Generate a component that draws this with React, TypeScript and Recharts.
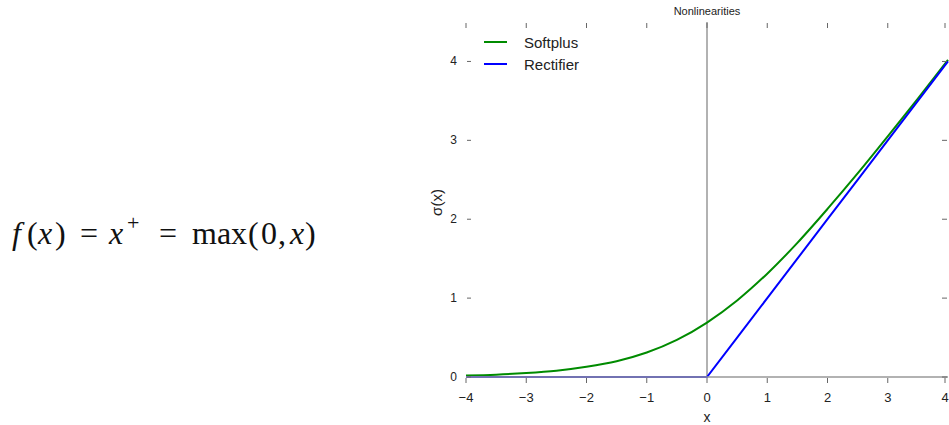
import { Line, LineChart, ReferenceLine, XAxis, YAxis } from 'recharts'

const SOFTPLUS_COLOR = '#008B00'
const RECTIFIER_COLOR = '#0000FF'
const AXIS_GREY = '#999999'
const TICK_GREY = '#666666'
const TEXT = '#222222'
const SANS = "Arial, 'Liberation Sans', sans-serif"
const SERIF = "'Liberation Serif', 'DejaVu Serif', serif"

// values
const xs = [-4, -3.5, -3, -2.5, -2, -1.5, -1, -0.5, 0, 0.5, 1, 1.5, 2, 2.5, 3, 3.5, 4]
const softplus = [0.02, 0.03, 0.05, 0.08, 0.13, 0.2, 0.31, 0.47, 0.69, 0.97, 1.31, 1.7, 2.13, 2.58, 3.05, 3.53, 4.02]
const rectifier = [0, 0, 0, 0, 0, 0, 0, 0, 0, 0.5, 1, 1.5, 2, 2.5, 3, 3.5, 4]
const xTicks = [-4, -3, -2, -1, 0, 1, 2, 3, 4]
const yTicks = [0, 1, 2, 3, 4]
const seriesNames = ['Softplus', 'Rectifier']
const seriesColors = [SOFTPLUS_COLOR, RECTIFIER_COLOR]

const data = xs.map((x, i) => ({ x, softplus: softplus[i], rectifier: rectifier[i] }))

const fmt = (v: number) => String(v).replace('-', '\u2212')

function BottomTick({ x, y, payload }: any) {
  return (
    <g>
      <line x1={x} x2={x} y1={y + 1} y2={y + 6} stroke={TICK_GREY} />
      <text x={x} y={y + 25} textAnchor="middle" fontSize={13} fill={TEXT} fontFamily={SANS}>
        {fmt(payload.value)}
      </text>
    </g>
  )
}

function TopTick({ x, y }: any) {
  return <line x1={x} x2={x} y1={y + 1} y2={y + 6} stroke={TICK_GREY} />
}

function LeftTick({ x, y, payload }: any) {
  return (
    <g>
      <line x1={x + 1} x2={x + 5} y1={y} y2={y} stroke={TICK_GREY} />
      <text x={x - 9} y={y + 4} textAnchor="end" fontSize={12} fill={TEXT} fontFamily={SANS}>
        {payload.value}
      </text>
    </g>
  )
}

function RightTick({ x, y }: any) {
  return <line x1={x - 6} x2={x - 1} y1={y} y2={y} stroke={TICK_GREY} />
}

// formula tokens: [text, left, italic]
const formula: [string, number, boolean][] = [
  ['f', 12, true],
  ['(', 27, false],
  ['x', 38, true],
  [')', 55, false],
  ['=', 80, false],
  ['x', 109, true],
  ['=', 159, false],
  ['max', 192, false],
  ['(', 248, false],
  ['0', 261, false],
  [',', 278, false],
  ['x', 290, true],
  [')', 305, false],
]

function Formula() {
  return (
    <div style={{ position: 'absolute', left: 0, top: 217, fontFamily: SERIF, fontSize: 32, lineHeight: '32px', color: '#111' }}>
      {formula.map(([t, left, it], i) => (
        <span key={i} style={{ position: 'absolute', left, top: 0, fontStyle: it ? 'italic' : 'normal', whiteSpace: 'nowrap' }}>
          {t}
        </span>
      ))}
      <span style={{ position: 'absolute', left: 127, top: -10, fontSize: 22 }}>+</span>
    </div>
  )
}

function LegendBox() {
  return (
    <div style={{ position: 'absolute', left: 484, top: 31, fontFamily: SANS, fontSize: 15, color: TEXT }}>
      {seriesNames.map((name, i) => (
        <div key={name} style={{ display: 'flex', alignItems: 'center', height: 22 }}>
          <svg width={23} height={4} style={{ marginRight: 17 }}>
            <line x1={0} x2={23} y1={2} y2={2} stroke={seriesColors[i]} strokeWidth={2} />
          </svg>
          <span>{name}</span>
        </div>
      ))}
    </div>
  )
}

export default function App() {
  return (
    <div
      style={{ position: 'absolute', left: 0, top: 0, width: 949, height: 425, background: '#fff', overflow: 'hidden' }}
    >
      <Formula />

      <LineChart
        width={949}
        height={425}
        data={data}
        margin={{ top: 21, right: 0, bottom: 0, left: 426 }}
        style={{ position: 'absolute', left: 0, top: 0 }}
      >
        <XAxis
          xAxisId="bottom"
          dataKey="x"
          type="number"
          domain={[-4, 4]}
          ticks={xTicks}
          height={48}
          axisLine={{ stroke: AXIS_GREY, strokeWidth: 1.5 }}
          tickLine={false}
          tickSize={0}
          tickMargin={0}
          tick={<BottomTick />}
          label={{ value: 'x', position: 'insideBottom', offset: 3, fontSize: 14, fill: TEXT, fontFamily: SANS }}
        />
        <XAxis
          xAxisId="top"
          orientation="top"
          dataKey="x"
          type="number"
          domain={[-4, 4]}
          ticks={xTicks}
          height={1}
          axisLine={false}
          tickLine={false}
          tickSize={0}
          tickMargin={0}
          tick={<TopTick />}
        />
        <YAxis
          yAxisId="left"
          type="number"
          domain={[0, 4.5]}
          ticks={yTicks}
          width={40}
          axisLine={false}
          tickLine={false}
          tickSize={0}
          tickMargin={0}
          tick={<LeftTick />}
          label={{ value: '\u03c3(x)', angle: -90, position: 'center', dx: -9, dy: 3, fontSize: 15, fill: TEXT, fontFamily: SANS }}
        />
        <YAxis
          yAxisId="right"
          orientation="right"
          type="number"
          domain={[0, 4.5]}
          ticks={yTicks}
          width={1}
          axisLine={false}
          tickLine={false}
          tickSize={0}
          tickMargin={0}
          tick={<RightTick />}
        />
        <ReferenceLine x={0} xAxisId="bottom" yAxisId="left" stroke={AXIS_GREY} strokeWidth={1.5} />
        <Line
          xAxisId="top"
          yAxisId="right"
          dataKey="softplus"
          name="Softplus"
          type="monotone"
          stroke={SOFTPLUS_COLOR}
          strokeWidth={2}
          dot={false}
          isAnimationActive={false}
        />
        <Line
          xAxisId="bottom"
          yAxisId="left"
          dataKey="rectifier"
          name="Rectifier"
          type="linear"
          stroke={RECTIFIER_COLOR}
          strokeWidth={2}
          dot={false}
          isAnimationActive={false}
        />
      </LineChart>

      <div
        style={{ position: 'absolute', left: 657, top: 5, width: 100, textAlign: 'center', fontFamily: SANS, fontSize: 11, lineHeight: '12px', color: TEXT }}
      >
        Nonlinearities
      </div>
      <LegendBox />
    </div>
  )
}
